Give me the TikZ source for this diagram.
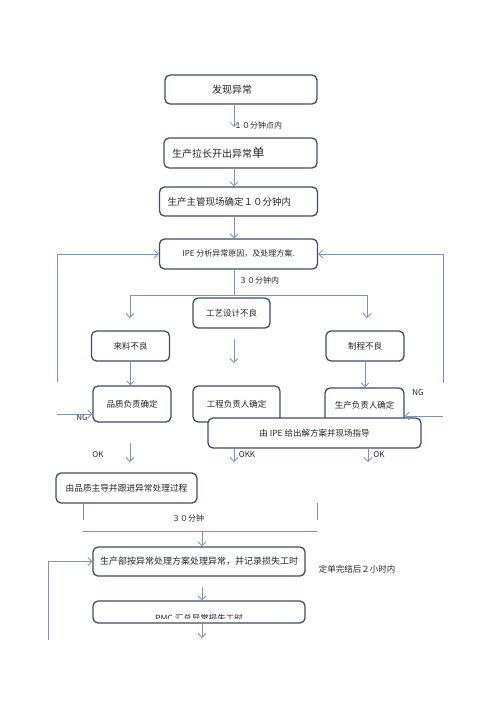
\documentclass[tikz,border=0pt]{standalone}
\usepackage{fontspec}
\setmainfont{Noto Sans CJK SC}
\usepackage{xcolor}
\usetikzlibrary{arrows.meta}
\definecolor{boxline}{RGB}{58,78,108}
\definecolor{flowline}{RGB}{120,150,188}

\begin{document}
\begin{tikzpicture}[x=1pt,y=-1pt,
	box/.style={draw=boxline,line width=1.3pt,rounded corners=5pt,fill=white,
		inner sep=0pt,text=black!85,font=\fontsize{8.5}{10}\selectfont},
	flow/.style={draw=flowline,line width=.8pt,-{Straight Barb[length=4pt,width=8pt]}},
	link/.style={draw=flowline,line width=.8pt},
	note/.style={text=black!85,inner sep=0pt,font=\fontsize{8}{9}\selectfont}]
	\useasboundingbox (0,0) rectangle (500,707);
	
	% columns of the arrows
	\coordinate (mid) at (234,0);
	\coordinate (low) at (202,0);
	
	\node[box,minimum height=29pt,text width=58pt,inner xsep=47pt,align=left,font=\fontsize{10}{12}\selectfont] (find) at (241,89.5) {发现异常};
	\node[box,minimum height=30pt,text width=137pt,inner xsep=8pt,align=left,font=\fontsize{10}{12}\selectfont] (open) at (240.5,153) {生产拉长开出异常{\fontsize{12.5}{12}\selectfont 单}};
	\node[box,minimum height=29pt,text width=142pt,inner xsep=8pt,align=left,font=\fontsize{9.5}{11}\selectfont] (confirm) at (238.5,201.5) {生产主管现场确定１０分钟内};
	\node[box,minimum width=158pt,minimum height=30pt,font=\fontsize{8}{9}\selectfont] (ipe) at (238.5,254) {IPE 分析异常原因，及处理方案.};
	
	\node[box,minimum width=77pt,minimum height=30pt] (craft) at (231.5,313) {工艺设计不良};
	\node[box,minimum width=78pt,minimum height=30pt] (material) at (130.5,346) {来料不良};
	\node[box,minimum width=78pt,minimum height=30pt] (process) at (365,346) {制程不良};
	\node[box,minimum width=78pt,minimum height=36pt] (quality) at (132,404) {品质负责确定};
	\node[box,minimum width=87pt,minimum height=36pt] (engineer) at (236.5,404) {工程负责人确定};
	\node[box,minimum width=79pt,minimum height=34pt] (produce) at (364.5,405) {生产负责人确定};
	\node[box,minimum width=213pt,minimum height=30pt] (solution) at (314.5,433) {由 IPE 给出解方案并现场指导};
	
	\node[box,minimum width=141pt,minimum height=30pt,font=\fontsize{8.7}{10}\selectfont] (follow) at (126.5,488) {由品质主导并跟进异常处理过程};
	\node[box,minimum width=212pt,minimum height=29pt,font=\fontsize{9}{10}\selectfont] (handle) at (199,561.5) {生产部按异常处理方案处理异常，并记录损失工时};
	\node[box,minimum width=212pt,minimum height=22pt] (pmc) at (199,612) {};
	\begin{scope}
		\clip (93,600) rectangle (305,618.5);
		\node[note,font=\fontsize{8.5}{10}\selectfont] (pmctext) at (199,618) {PMC 汇总异常损失工时};
	\end{scope}
	
	% labels
	\node[note] (t10) at (258,125) {１０分钟点内};
	\node[note] (t30) at (259,280) {３０分钟内};
	\node[note] (t30b) at (188,518) {３０分钟};
	\node[note,font=\fontsize{8.5}{10}\selectfont] (deadline) at (357,569) {定单完结后２小时内};
	\node[note] (ngleft) at (82,418) {NG};
	\node[note] (ngright) at (418,393) {NG};
	\foreach \x/\t in {98/OK,247/OKK,379/OK}
		\node[note] (ok\x) at (\x,455) {\t};
	
	% top chain
	\coordinate (a1) at (234,127);
	\draw[flow] (find.south -| mid) -- (a1);
	\draw[flow] (open.south -| mid) -- (confirm.north -| mid);
	\draw[flow] (confirm.south -| mid) -- (ipe.north -| mid);
	
	% split into the three causes
	\coordinate (split) at (234,295);
	\coordinate (splitL) at (130,295);
	\coordinate (splitR) at (367,295);
	\draw[link] (ipe.south -| mid) -- (split);
	\draw[link] (splitL) -- (splitR);
	\foreach \x in {130,367}
		\draw[flow] (\x,295) -- (\x,318);
	\coordinate (c1) at (234,339);
	\coordinate (c2) at (234,363);
	\draw[flow] (c1) -- (c2);
	\draw[flow] (material.south) -- (material.south |- quality.north);
	\draw[flow] (process.south) -- (process.south |- produce.north);
	
	% NG loops back to IPE
	\coordinate (loopL) at (57,382);
	\coordinate (loopR) at (443,383);
	\draw[flow] (loopL) |- (ipe.west);
	\draw[flow] (loopR) |- (ipe.east);
	\coordinate (ngL) at (57,414);
	\coordinate (ngR) at (443,416);
	\draw[flow] (ngL) -- (ngL -| quality.west);
	\draw[flow] (ngR) -- (ngR -| produce.east);
	
	% OK arrows
	\draw[flow] (130,443) -- (130,462);
	\draw[flow] (solution.south -| mid) -- (234,462);
	\draw[flow] (solution.south -| 368,0) -- (368,462);
	
	% lower part
	\coordinate (j1) at (83,503);
	\coordinate (j2) at (83,520);
	\coordinate (j3) at (317,503);
	\coordinate (j4) at (317,520);
	\draw[link] (j1) -- (j2);
	\draw[link] (j3) -- (j4);
	\draw[link] (83,531) -- (317,531);
	\draw[flow] (low |- 0,531) -- (handle.north -| low);
	\coordinate (loopB) at (48,640);
	\draw[flow] (loopB) |- (handle.west);
	\coordinate (p1) at (202,587);
	\coordinate (p2) at (202,638);
	\draw[flow] (p1) -- (pmc.north -| low);
	\draw[flow] (pmc.south -| low) -- (p2);
\end{tikzpicture}
\end{document}
